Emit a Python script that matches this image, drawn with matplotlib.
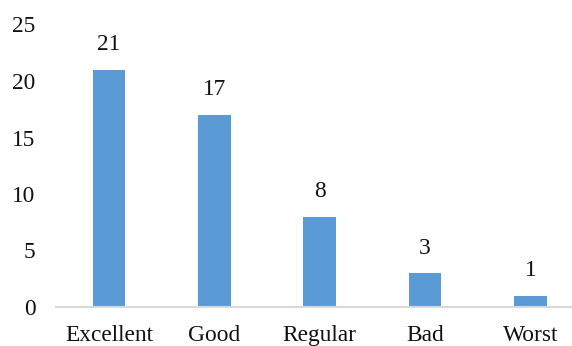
import matplotlib
matplotlib.use("Agg")
import matplotlib.pyplot as plt

categories = ["Excellent", "Good", "Regular", "Bad", "Worst"]
counts = [21, 17, 8, 3, 1]
y_ticks = [0, 5, 10, 15, 20, 25]

plt.rcParams["font.family"] = ["Liberation Serif", "DejaVu Serif"]

fig = plt.figure(figsize=(5.72, 3.46), dpi=100)
W, H = 572, 346
left, right = 56.4, 583.0
bottom, top = 307.0, 24.5
ax = fig.add_axes([left / W, 1 - bottom / H, (right - left) / W, (bottom - top) / H])

x = list(range(len(categories)))
bars = ax.bar(x, counts, width=0.31, color="#5B9BD5", zorder=2)

for xi, v in zip(x, counts):
    ax.annotate(str(v), (xi, v), xytext=(0, 10.5), textcoords="offset points",
                ha="center", va="bottom", fontsize=16.8, color="#111111")

ax.set_xlim(-0.5, len(categories) - 0.5)
ax.set_ylim(0, 25)
ax.set_yticks(y_ticks)
ax.set_xticks(x)
ax.set_xticklabels(categories)
ax.tick_params(axis="both", length=0, labelsize=16.8, colors="#111111")
ax.tick_params(axis="y", pad=15)
ax.tick_params(axis="x", pad=13)

for s in ["top", "right", "left"]:
    ax.spines[s].set_visible(False)
ax.spines["bottom"].set_color("#D9D9D9")
ax.spines["bottom"].set_linewidth(1.5)

fig.savefig("out.png", dpi=100)
